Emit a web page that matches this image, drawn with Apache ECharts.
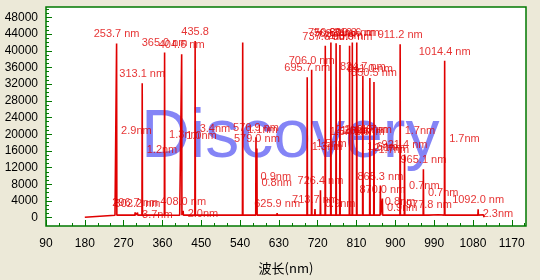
<!DOCTYPE html>
<html><head><meta charset="utf-8">
<script src="https://cdn.jsdelivr.net/npm/echarts@6/dist/echarts.min.js"></script>
<style>html,body{margin:0;padding:0;background:#ece9d8;}#c{width:540px;height:280px;}</style>
</head><body><div id="c"></div>
<script>
// Tick labels
const xTickLabels = [90,180,270,360,450,540,630,720,810,900,990,1080,1170];
const yTickLabels = [0,4000,8000,12000,16000,20000,24000,28000,32000,36000,40000,44000,48000];

// Peaks: wavelength (nm), intensity, peak label, FWHM label
const peakWavelengths = [253.7,296.7,302.2,313.1,365.0,404.6,408.0,435.8,546.1,576.9,579.0,625.9,695.7,706.0,713.7,726.4,737.6,750.6,762.7,771.6,793.9,800.3,810.6,824.7,841.0,850.5,865.3,870.0,911.2,921.4,965.1,977.8,1014.4,1092.0];
const peakHeights     = [41770,1300,1200,32250,39600,39200,1650,42340,41960,19300,16600,1100,33670,35470,2060,6560,41200,42000,41800,41400,41200,42000,42000,34000,33500,32500,7700,4570,41560,15150,11600,880,37600,2000];
const peakLabels      = ["253.7 nm","296.7 nm","302.2 nm","313.1 nm","365.0 nm","404.6 nm","408.0 nm","435.8","","576.9 nm","579.0 nm","625.9 nm","695.7 nm","706.0 nm","713.7 nm","726.4 nm","737.6 nm","750.6 nm","762.7 nm","771.6 nm","793.9 nm","800.3 nm","810.6 nm","824.7 nm","841.0 nm","850.5 nm","865.3 nm","870.0 nm","911.2 nm","921.4 nm","965.1 nm","977.8 nm","1014.4 nm","1092.0 nm"];
const fwhmLabels      = ["2.9nm","","3.7nm","1.2nm","1.3nm","1.0nm","2.0nm","3.4nm","1.1nm","0.9nm","0.8nm","","1.3nm","1.5nm","","0.9nm","1.5nm","2.2nm","1.6nm","1.6nm","1.6nm","2.0nm","1.7nm","1.6nm","2.1nm","1.7nm","0.8nm","0.9nm","1.7nm","0.7nm","0.7nm","","1.7nm","2.3nm"];

// Continuum baseline
const baseWavelengths = [180,182,183,250,400,600,800,1000,1104,1106];
const baseValues      = [100,150,560,560,560,600,680,700,680,120];
const peakFootLevel = 600;

const spectrum = [];
baseWavelengths.forEach((w,i)=>spectrum.push([w, baseValues[i]]));
peakWavelengths.forEach((w,i)=>{
  spectrum.push([w-0.6, peakFootLevel]);
  spectrum.push([w, peakHeights[i]]);
  spectrum.push([w+0.6, peakFootLevel]);
});
spectrum.sort((a,b)=>a[0]-b[0]);

const topLabelData = [], fwhmLabelData = [];
peakWavelengths.forEach((w,i)=>{
  if (peakLabels[i]) topLabelData.push([w, peakHeights[i], peakLabels[i]]);
  if (fwhmLabels[i]) fwhmLabelData.push([w, peakHeights[i]/2, fwhmLabels[i]]);
});

const xMinor = [], yMinor = [];
for (let v = 90; v <= 1200; v += 30) xMinor.push(v);
for (let v = 0; v <= 50000; v += 1000) yMinor.push(v);

const green = '#007800';
const red = '#e00000';
const font = 'Liberation Sans';
const X_MIN = 90, X_MAX = 1203, Y_MIN = -2000, Y_MAX = 50500;
const plain = v => String(v);

const chart = echarts.init(document.getElementById('c'), null, {renderer:'canvas'});
chart.setOption({
  backgroundColor: '#ece9d8',
  animation: false,
  grid: {left:46, right:14, top:7, bottom:51, show:true, backgroundColor:'#ffffff', borderColor:green, borderWidth:1.5, z:0},
  graphic: [{
    type:'text', left:141, top:104, z:1, silent:true,
    style:{text:'Discovery', font:'68px "Liberation Sans"', fill:'rgba(110,110,245,0.85)'}
  }],
  xAxis: [{
    type:'value', min:X_MIN, max:X_MAX, position:'bottom',
    axisLine:{show:false, onZero:false}, splitLine:{show:false},
    axisTick:{show:true, inside:true, length:6, customValues:xTickLabels, lineStyle:{color:green, width:1}},
    axisLabel:{customValues:xTickLabels, formatter:plain, color:'#000', fontSize:12, fontFamily:font, margin:12},
    name:'波长(nm)', nameLocation:'middle', nameGap:36,
    nameTextStyle:{color:'#000', fontSize:13, fontFamily:'Noto Sans CJK SC'}
  },{
    type:'value', min:X_MIN, max:X_MAX, position:'bottom',
    axisLine:{show:false, onZero:false}, splitLine:{show:false}, axisLabel:{show:false},
    axisTick:{show:true, inside:true, length:3, customValues:xMinor, lineStyle:{color:green, width:1}}
  }],
  yAxis: [{
    type:'value', min:Y_MIN, max:Y_MAX, position:'left',
    axisLine:{show:false, onZero:false}, splitLine:{show:false},
    axisTick:{show:true, inside:true, length:6, customValues:yTickLabels, lineStyle:{color:green, width:1}},
    axisLabel:{customValues:yTickLabels, formatter:plain, color:'#000', fontSize:12, fontFamily:font, margin:8}
  },{
    type:'value', min:Y_MIN, max:Y_MAX, position:'left',
    axisLine:{show:false, onZero:false}, splitLine:{show:false}, axisLabel:{show:false},
    axisTick:{show:true, inside:true, length:3, customValues:yMinor, lineStyle:{color:green, width:1}}
  }],
  series: [{
    type:'line', xAxisIndex:0, yAxisIndex:0, data:spectrum, showSymbol:false, symbol:'none',
    lineStyle:{color:red, width:1.6}, z:2, silent:true
  },{
    type:'scatter', xAxisIndex:0, yAxisIndex:0, data:topLabelData, symbolSize:1,
    itemStyle:{color:'rgba(0,0,0,0)'}, z:3, silent:true,
    label:{show:true, position:'top', distance:3, color:red, fontSize:11, fontFamily:font,
      formatter:p=>p.data[2]}
  },{
    type:'scatter', xAxisIndex:0, yAxisIndex:0, data:fwhmLabelData, symbolSize:1,
    itemStyle:{color:'rgba(0,0,0,0)'}, z:3, silent:true,
    label:{show:true, position:'right', distance:4, color:red, fontSize:11, fontFamily:font,
      formatter:p=>p.data[2]}
  }]
});
</script></body></html>
